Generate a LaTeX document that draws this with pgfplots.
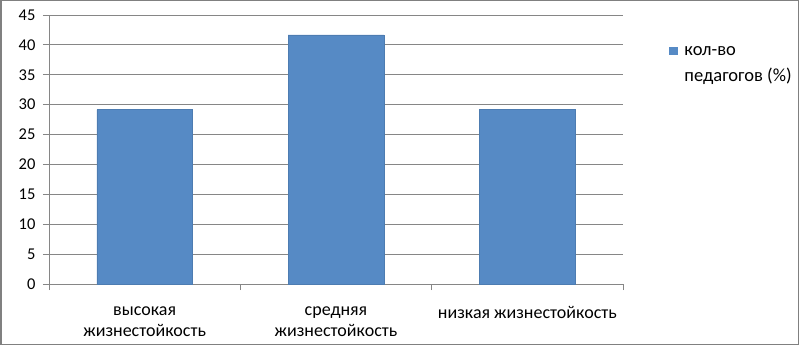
\documentclass[border=0pt]{standalone}
\usepackage{pgfplots}
\pgfplotsset{compat=1.18}
\usepackage{fontspec}
\setmainfont{Carlito}
\definecolor{barblue}{RGB}{86,138,197}
\definecolor{gridgray}{RGB}{134,134,134}
\definecolor{framegray}{RGB}{128,128,128}
\begin{document}
\fontsize{16pt}{19pt}\selectfont
\begin{tikzpicture}[x=1pt,y=1pt]
\useasboundingbox (0,0) rectangle (799,345);
\draw[framegray, line width=1.5pt] (0.75,0.75) rectangle (798.25,344.25);
\begin{axis}[
  at={(49pt,61pt)}, anchor=south west,
  scale only axis, width=574pt, height=269pt,
  xmin=-0.5, xmax=2.5, ymin=0, ymax=45,
  ytick={0,5,...,45},
  xtick={-0.5,0.5,1.5,2.5}, xticklabels={},
  extra x ticks={0,1,2},
  extra x tick labels={{высокая\\[1.5pt]жизнестойкость},{средняя\\[1.5pt]жизнестойкость},{низкая жизнестойкость}},
  extra x tick style={major tick length=0pt, grid=none},
  x tick label style={align=center, yshift=-17pt, font=\fontsize{18pt}{20pt}\selectfont},
  y tick label style={font=\fontsize{16.5pt}{19pt}\selectfont, xshift=-2pt},
  /pgf/number format/assume math mode=true,
  axis x line*=bottom, axis y line*=left,
  axis line style={gridgray, line width=1pt, -},
  tick style={gridgray, line width=1pt},
  tick align=outside, major tick length=6pt,
  ymajorgrids, grid style={gridgray, line width=1pt},
  ybar, bar width=0.5,
  legend style={at={(1.0747,0.900)}, anchor=north west, draw=none, fill=none,
    font=\fontsize{18.5pt}{22pt}\selectfont, nodes={align=left}},
  legend image code/.code={\fill[barblue] (0pt,11pt) rectangle (8pt,18pt); \path (13pt,14pt);},
]
\addplot[fill=barblue, draw=barblue!90!black] coordinates {(0,29.17) (1,41.67) (2,29.17)};
\addlegendentry{кол-во\\[4pt]педагогов (\%)}
\end{axis}
\end{tikzpicture}
\end{document}
